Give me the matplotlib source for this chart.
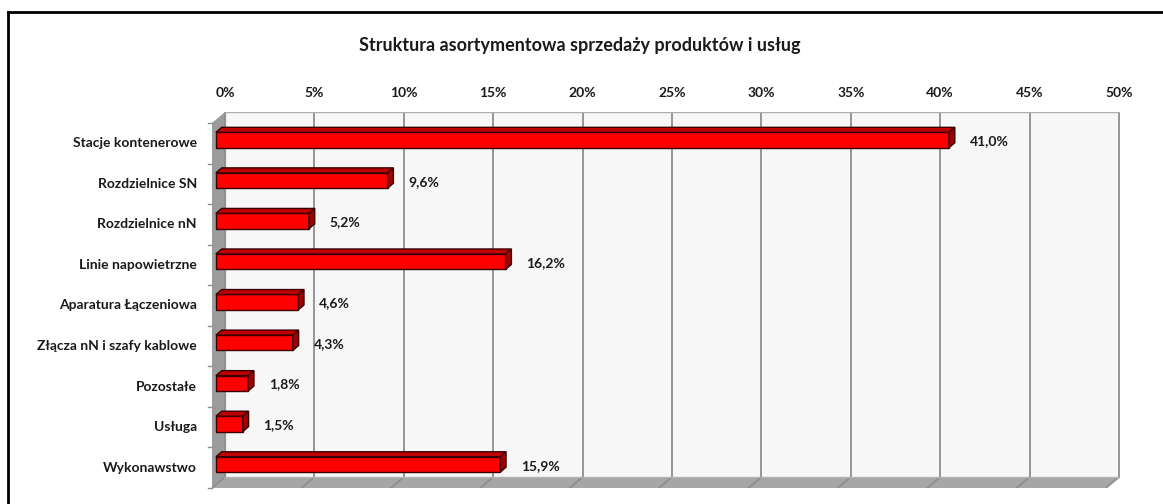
import numpy as np
import matplotlib.pyplot as plt
from matplotlib.patches import Polygon

plt.rcParams['font.family'] = ['Lato', 'DejaVu Sans']
plt.rcParams['font.weight'] = 'bold'

categories = ['Stacje kontenerowe', 'Rozdzielnice SN', 'Rozdzielnice nN',
              'Linie napowietrzne', 'Aparatura Łączeniowa', 'Złącza nN i szafy kablowe',
              'Pozostałe', 'Usługa', 'Wykonawstwo']
shares = [41.0, 9.6, 5.2, 16.2, 4.6, 4.3, 1.8, 1.5, 15.9]
value_labels = ['41,0%', '9,6%', '5,2%', '16,2%', '4,6%', '4,3%', '1,8%', '1,5%', '15,9%']
ticks = [0, 5, 10, 15, 20, 25, 30, 35, 40, 45, 50]
title = 'Struktura asortymentowa sprzedaży produktów i usług'

W, H = 1163, 504
fig = plt.figure(figsize=(W / 100, H / 100), dpi=100)
fig.patch.set_facecolor('white')

# axes in pixel terms: back plane x 225..1119, front plane shifted by (-13, +11) px
px_l, px_r, px_t, px_b = 212, 1120, 112, 488
ax = fig.add_axes([px_l / W, 1 - px_b / H, (px_r - px_l) / W, (px_b - px_t) / H])
sx = 894 / 50.0          # px per percent
sy = 376 / 9.27          # px per category
ddx = -13 / sx           # depth shift (front relative to back) in data units
ddy = 11 / sy
xmax = 50
ymin, ymax = -0.5, 8.5 + ddy
ax.set_xlim(-13 / sx, (px_r - 225) / sx)
ax.set_ylim(ymax, ymin)
ax.axis('off')

n = len(categories)
wall = '#f7f7f7'
side_grey = '#a6a6a6'
grid_c = '#8e8e8e'

# back wall
ax.add_patch(Polygon([(0, ymin), (xmax, ymin), (xmax, 8.5), (0, 8.5)],
                     closed=True, fc=wall, ec='none', zorder=0))
# floor
ax.add_patch(Polygon([(0, 8.5), (xmax, 8.5), (xmax + ddx, 8.5 + ddy), (ddx, 8.5 + ddy)],
                     closed=True, fc=side_grey, ec='none', zorder=0))
# left wall
ax.add_patch(Polygon([(0, ymin), (0, 8.5), (ddx, 8.5 + ddy), (ddx, ymin + ddy)],
                     closed=True, fc='#9c9c9c', ec='none', zorder=0))
ax.plot([0, 0], [ymin, 8.5], color='#c8c8c8', lw=1, zorder=0.5)

for t in ticks:
    ax.plot([t, t], [ymin, 8.5], color=grid_c, lw=1.3, zorder=1)
    ax.plot([t, t + ddx], [8.5, 8.5 + ddy], color=grid_c, lw=1.3, zorder=1)
    ax.text(t, -0.98, f'{t}%', ha='center', va='center', fontsize=10, color='#1a1a1a')
ax.plot([0, xmax], [ymin, ymin], color='#b0b0b0', lw=1, zorder=1)
ax.plot([0, xmax], [8.5, 8.5], color='#b4b4b4', lw=1, zorder=1)

# category ticks on the front edge of the left wall
for k in range(n + 1):
    yb = -0.5 + k + ddy
    ax.plot([ddx - 0.22, ddx], [yb, yb], color=grid_c, lw=1, zorder=1, clip_on=False)

# bars: front face at depth 0.3, back face at depth 0.75
f_front, f_back = 0.3, 0.75
ox_f, oy_f = ddx * (1 - f_front), ddy * (1 - f_front)
ox_b, oy_b = ddx * (1 - f_back), ddy * (1 - f_back)
bh = 0.38
y = np.arange(n)
ax.barh(y + oy_f, shares, left=ox_f, height=bh, color='#ff0000',
        edgecolor='#3a0000', linewidth=1, zorder=3)
for i, v in enumerate(shares):
    yc = i + oy_f
    top = [(ox_f, yc - bh / 2), (v + ox_f, yc - bh / 2),
           (v + ox_b, yc - bh / 2 + oy_b - oy_f), (ox_b, yc - bh / 2 + oy_b - oy_f)]
    ax.add_patch(Polygon(top, closed=True, fc='#c00000', ec='#3a0000', lw=1, zorder=3))
    side = [(v + ox_f, yc - bh / 2), (v + ox_b, yc - bh / 2 + oy_b - oy_f),
            (v + ox_b, yc + bh / 2 + oy_b - oy_f), (v + ox_f, yc + bh / 2)]
    ax.add_patch(Polygon(side, closed=True, fc='#a00000', ec='#3a0000', lw=1, zorder=3))
    ax.text(v + 0.65, yc + 0.03, value_labels[i], ha='left', va='center',
            fontsize=10, color='#1a1a1a', zorder=4)
    ax.text(ddx - 0.85, i + ddy, categories[i], ha='right', va='center',
            fontsize=10, color='#1a1a1a', clip_on=False)

fig.text(580 / W, 1 - 46 / H, title, ha='center', va='center', fontsize=13, color='#1a1a1a')

# outer frame
fig.add_artist(plt.Line2D([8 / W, 8 / W], [0, 1 - 12 / H], color='black', lw=2))
fig.add_artist(plt.Line2D([8 / W, 1], [1 - 12 / H, 1 - 12 / H], color='black', lw=2))

fig.savefig('out.png', dpi=100)
